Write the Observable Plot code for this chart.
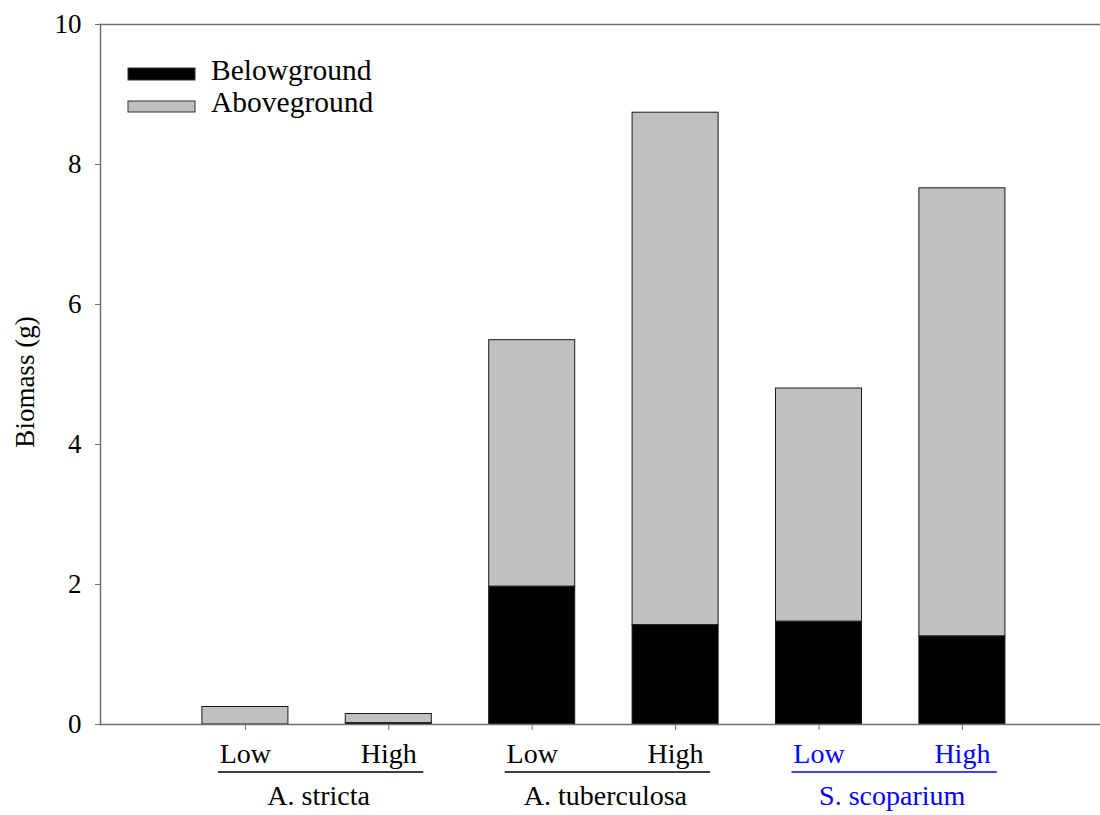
<!DOCTYPE html>
<html>
<head>
<meta charset="utf-8">
<script src="https://cdn.jsdelivr.net/npm/d3@7"></script>
<script src="https://cdn.jsdelivr.net/npm/@observablehq/plot@0.6"></script>
<style>
  html, body { margin: 0; padding: 0; background: #fff; }
  #chart { position: relative; width: 1100px; height: 815px; }
  svg { font-family: "Liberation Serif", "Times New Roman", serif; }
</style>
</head>
<body>
<div id="chart"></div>
<script>
// Biomass per species and nutrient level
const species = ["A. stricta", "A. stricta", "A. tuberculosa", "A. tuberculosa", "S. scoparium", "S. scoparium"];
const levels = ["Low", "High", "Low", "High", "Low", "High"];
const belowground = [0.0, 0.02, 1.97, 1.42, 1.47, 1.26];
const aboveground = [0.25, 0.13, 3.52, 7.32, 3.33, 6.40];
const parts = ["Belowground", "Aboveground"];
const partColors = ["#000000", "#c0c0c0"];
const yTicks = [0, 2, 4, 6, 8, 10];
const speciesColors = {"A. stricta": "#000000", "A. tuberculosa": "#000000", "S. scoparium": "#0000ff"};

const keys = species.map((s, i) => `${s}|${levels[i]}`);
const rows = [];
keys.forEach((k, i) => {
  rows.push({key: k, part: "Belowground", value: belowground[i]});
  rows.push({key: k, part: "Aboveground", value: aboveground[i]});
});
const labels = keys.map((k, i) => ({key: k, level: levels[i], species: species[i]}));

const W = 1100, H = 815, ML = 100, MT = 24, MB = 91;
const step = 143.4;
const x0 = ML + step / 2 + 1.5;

const axisColor = "#707070";
const font = "Liberation Serif, Times New Roman, serif";

const plot = Plot.plot({
  width: W,
  height: H,
  marginLeft: ML,
  marginRight: 0,
  marginTop: MT,
  marginBottom: MB,
  style: {fontFamily: font, background: "white"},
  x: {domain: keys, range: [x0, x0 + 6 * step], paddingInner: 0.4, paddingOuter: 0.2, round: false, axis: null},
  y: {domain: [0, 10], axis: null},
  color: {domain: parts, range: partColors},
  marks: [
    Plot.barY(rows, {x: "key", y: "value", fill: "part", stroke: "#1a1a1a", strokeWidth: 1, order: parts}),
    Plot.frame({anchor: "top", stroke: axisColor, strokeWidth: 1.5}),
    Plot.frame({anchor: "left", stroke: axisColor, strokeWidth: 1.5}),
    Plot.ruleY([0], {stroke: axisColor, strokeWidth: 1.5}),
    Plot.axisY({ticks: yTicks, tickSize: 5, tickPadding: 14, fontSize: 27, stroke: axisColor, fill: "black", label: null}),
    Plot.axisX({tickSize: 6, tickFormat: () => "", stroke: axisColor, label: null}),
    Plot.text(labels.filter(d => d.species !== "S. scoparium"), {
      x: "key", text: "level", frameAnchor: "bottom", lineAnchor: "top", dy: 19, fontSize: 28, fill: "black"
    }),
    Plot.text(labels.filter(d => d.species === "S. scoparium"), {
      x: "key", text: "level", frameAnchor: "bottom", lineAnchor: "top", dy: 19, fontSize: 28, fill: "#0000ff"
    })
  ]
});

document.getElementById("chart").appendChild(plot);

// Group underlines and species names below the level labels
const x = plot.scale("x");
const bw = x.bandwidth;
const svg = d3.select(plot);
const groups = Array.from(new Set(species));
groups.forEach(g => {
  const ks = keys.filter((k, i) => species[i] === g);
  const c0 = x.apply(ks[0]) + bw / 2;
  const c1 = x.apply(ks[ks.length - 1]) + bw / 2;
  const col = speciesColors[g];
  svg.append("line")
    .attr("x1", c0 - 27).attr("x2", c1 + 35)
    .attr("y1", 772).attr("y2", 772)
    .attr("stroke", col).attr("stroke-width", 1.5);
  svg.append("text")
    .attr("x", (c0 + c1) / 2 + 2).attr("y", 805)
    .attr("text-anchor", "middle")
    .attr("font-size", 28)
    .attr("font-family", font)
    .attr("fill", col)
    .text(g);
});

// Y axis title
svg.append("text")
  .attr("transform", "translate(34,382) rotate(-90)")
  .attr("text-anchor", "middle")
  .attr("font-size", 27)
  .attr("font-family", font)
  .attr("fill", "black")
  .text("Biomass (g)");

// Legend
const legend = svg.append("g").attr("text-anchor", "start");
const swatches = [
  {label: "Belowground", y: 68, h: 12},
  {label: "Aboveground", y: 101, h: 11}
];
swatches.forEach((s, i) => {
  legend.append("rect")
    .attr("x", 128).attr("y", s.y).attr("width", 67).attr("height", s.h)
    .attr("fill", partColors[i]).attr("stroke", "#333").attr("stroke-width", 1);
  legend.append("text")
    .attr("x", 211).attr("y", s.y + s.h)
    .attr("text-anchor", "start")
    .attr("font-size", 29.5)
    .attr("font-family", font)
    .attr("fill", "black")
    .text(s.label);
});
</script>
</body>
</html>
